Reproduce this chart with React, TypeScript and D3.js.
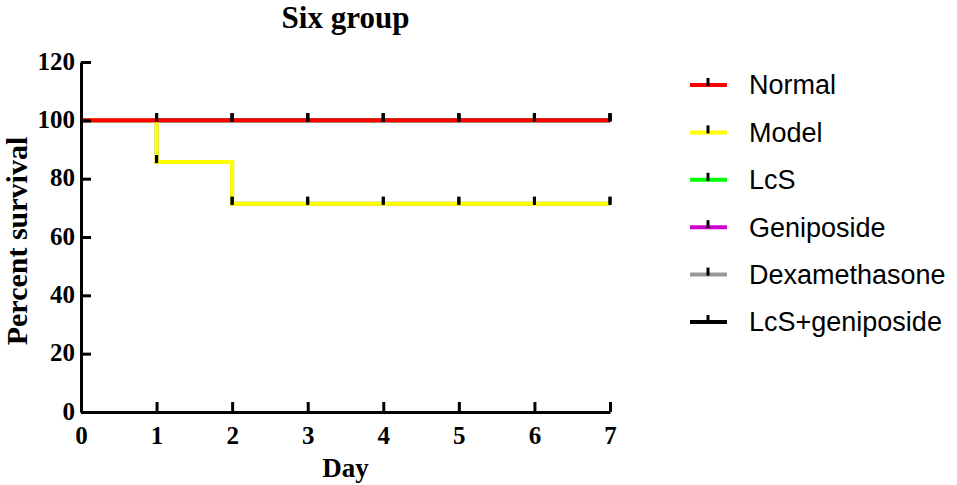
import { useEffect, useRef } from 'react'
import * as d3 from 'd3'

const days = [0, 1, 2, 3, 4, 5, 6, 7]
const groups = ['Normal', 'Model', 'LcS', 'Geniposide', 'Dexamethasone', 'LcS+geniposide']
const groupColors = ['#ff0000', '#ffff00', '#00ff00', '#cc00cc', '#999999', '#000000']
const normal = [100, 100, 100, 100, 100, 100, 100, 100]
const model = [100, 85.7, 71.4, 71.4, 71.4, 71.4, 71.4, 71.4]
const lcs = [100, 100, 100, 100, 100, 100, 100, 100]
const geniposide = [100, 100, 100, 100, 100, 100, 100, 100]
const dexamethasone = [100, 85.7, 71.4, 71.4, 71.4, 71.4, 71.4, 71.4]
const lcsGeniposide = [100, 100, 100, 100, 100, 100, 100, 100]
const yTicks = [0, 20, 40, 60, 80, 100, 120]

const seriesValues = [normal, model, lcs, geniposide, dexamethasone, lcsGeniposide]

export default function App() {
  const svgRef = useRef<SVGSVGElement>(null)

  useEffect(() => {
    document.body.style.margin = '0'
    if (!svgRef.current) return

    const width = 957
    const height = 485
    const margin = { top: 62, left: 81, right: 347, bottom: 73 }

    d3.select(svgRef.current).selectAll('*').remove()
    const svg = d3.select(svgRef.current)
      .attr('width', width)
      .attr('height', height)

    const x = d3.scaleLinear().domain([0, 7]).range([margin.left, width - margin.right])
    const y = d3.scaleLinear().domain([0, 120]).range([height - margin.bottom, margin.top])

    const serif = '"Liberation Serif", "Times New Roman", serif'
    const sans = '"Liberation Sans", Arial, sans-serif'

    // Survival curves, drawn last group first so Normal sits on top
    const line = d3.line<[number, number]>()
      .x(d => x(d[0]))
      .y(d => y(d[1]))
      .curve(d3.curveStepAfter)

    const order = groups.map((_, i) => i).reverse()
    order.forEach(i => {
      const pts: [number, number][] = days.map((d, j) => [d, seriesValues[i][j]])
      svg.append('path')
        .datum(pts)
        .attr('d', line)
        .attr('fill', 'none')
        .attr('stroke', groupColors[i])
        .attr('stroke-width', 4)
    })

    // Censor marks
    order.forEach(i => {
      svg.selectAll(null)
        .data(days.slice(1).map((d, j) => [d, seriesValues[i][j + 1]]))
        .enter().append('line')
        .attr('x1', d => x(d[0]))
        .attr('x2', d => x(d[0]))
        .attr('y1', d => y(d[1]) - 7)
        .attr('y2', d => y(d[1]) + 1)
        .attr('stroke', '#000')
        .attr('stroke-width', 3)
    })

    // Axes
    const xAxis = svg.append('g')
      .attr('transform', `translate(0,${y(0)})`)
      .call(d3.axisBottom(x).tickValues(days).tickFormat(d3.format('d')).tickSizeInner(-10).tickSizeOuter(0).tickPadding(14))
    const yAxis = svg.append('g')
      .attr('transform', `translate(${x(0)},0)`)
      .call(d3.axisLeft(y).tickValues(yTicks).tickSizeInner(-10).tickSizeOuter(0).tickPadding(6))

    ;[xAxis, yAxis].forEach(g => {
      g.selectAll('path, line').attr('stroke', '#000').attr('stroke-width', 3)
      g.selectAll('text')
        .attr('fill', '#000')
        .style('font-family', serif)
        .style('font-weight', 'bold')
        .style('font-size', '25px')
    })
    yAxis.selectAll('text').attr('dy', '0.28em')

    // Titles
    svg.append('text')
      .attr('x', (x(0) + x(7)) / 2)
      .attr('y', 28)
      .attr('text-anchor', 'middle')
      .style('font-family', serif)
      .style('font-weight', 'bold')
      .style('font-size', '31px')
      .text('Six group')

    svg.append('text')
      .attr('x', (x(0) + x(7)) / 2)
      .attr('y', 477)
      .attr('text-anchor', 'middle')
      .style('font-family', serif)
      .style('font-weight', 'bold')
      .style('font-size', '27px')
      .text('Day')

    svg.append('text')
      .attr('transform', `translate(27,${(y(0) + y(120)) / 2 + 4}) rotate(-90)`)
      .attr('text-anchor', 'middle')
      .style('font-family', serif)
      .style('font-weight', 'bold')
      .style('font-size', '30px')
      .text('Percent survival')

    // Legend
    const legend = svg.append('g').attr('transform', 'translate(690,85)')
    groups.forEach((name, i) => {
      const row = legend.append('g').attr('transform', `translate(0,${i * 47.4})`)
      row.append('line')
        .attr('x1', 0).attr('x2', 37)
        .attr('stroke', groupColors[i])
        .attr('stroke-width', 4)
      row.append('line')
        .attr('x1', 18).attr('x2', 18)
        .attr('y1', -7).attr('y2', 1)
        .attr('stroke', '#000')
        .attr('stroke-width', 3)
      row.append('text')
        .attr('x', 59)
        .attr('dy', '0.35em')
        .style('font-family', sans)
        .style('font-size', '27px')
        .text(name)
    })
  }, [])

  return <svg ref={svgRef}></svg>
}
